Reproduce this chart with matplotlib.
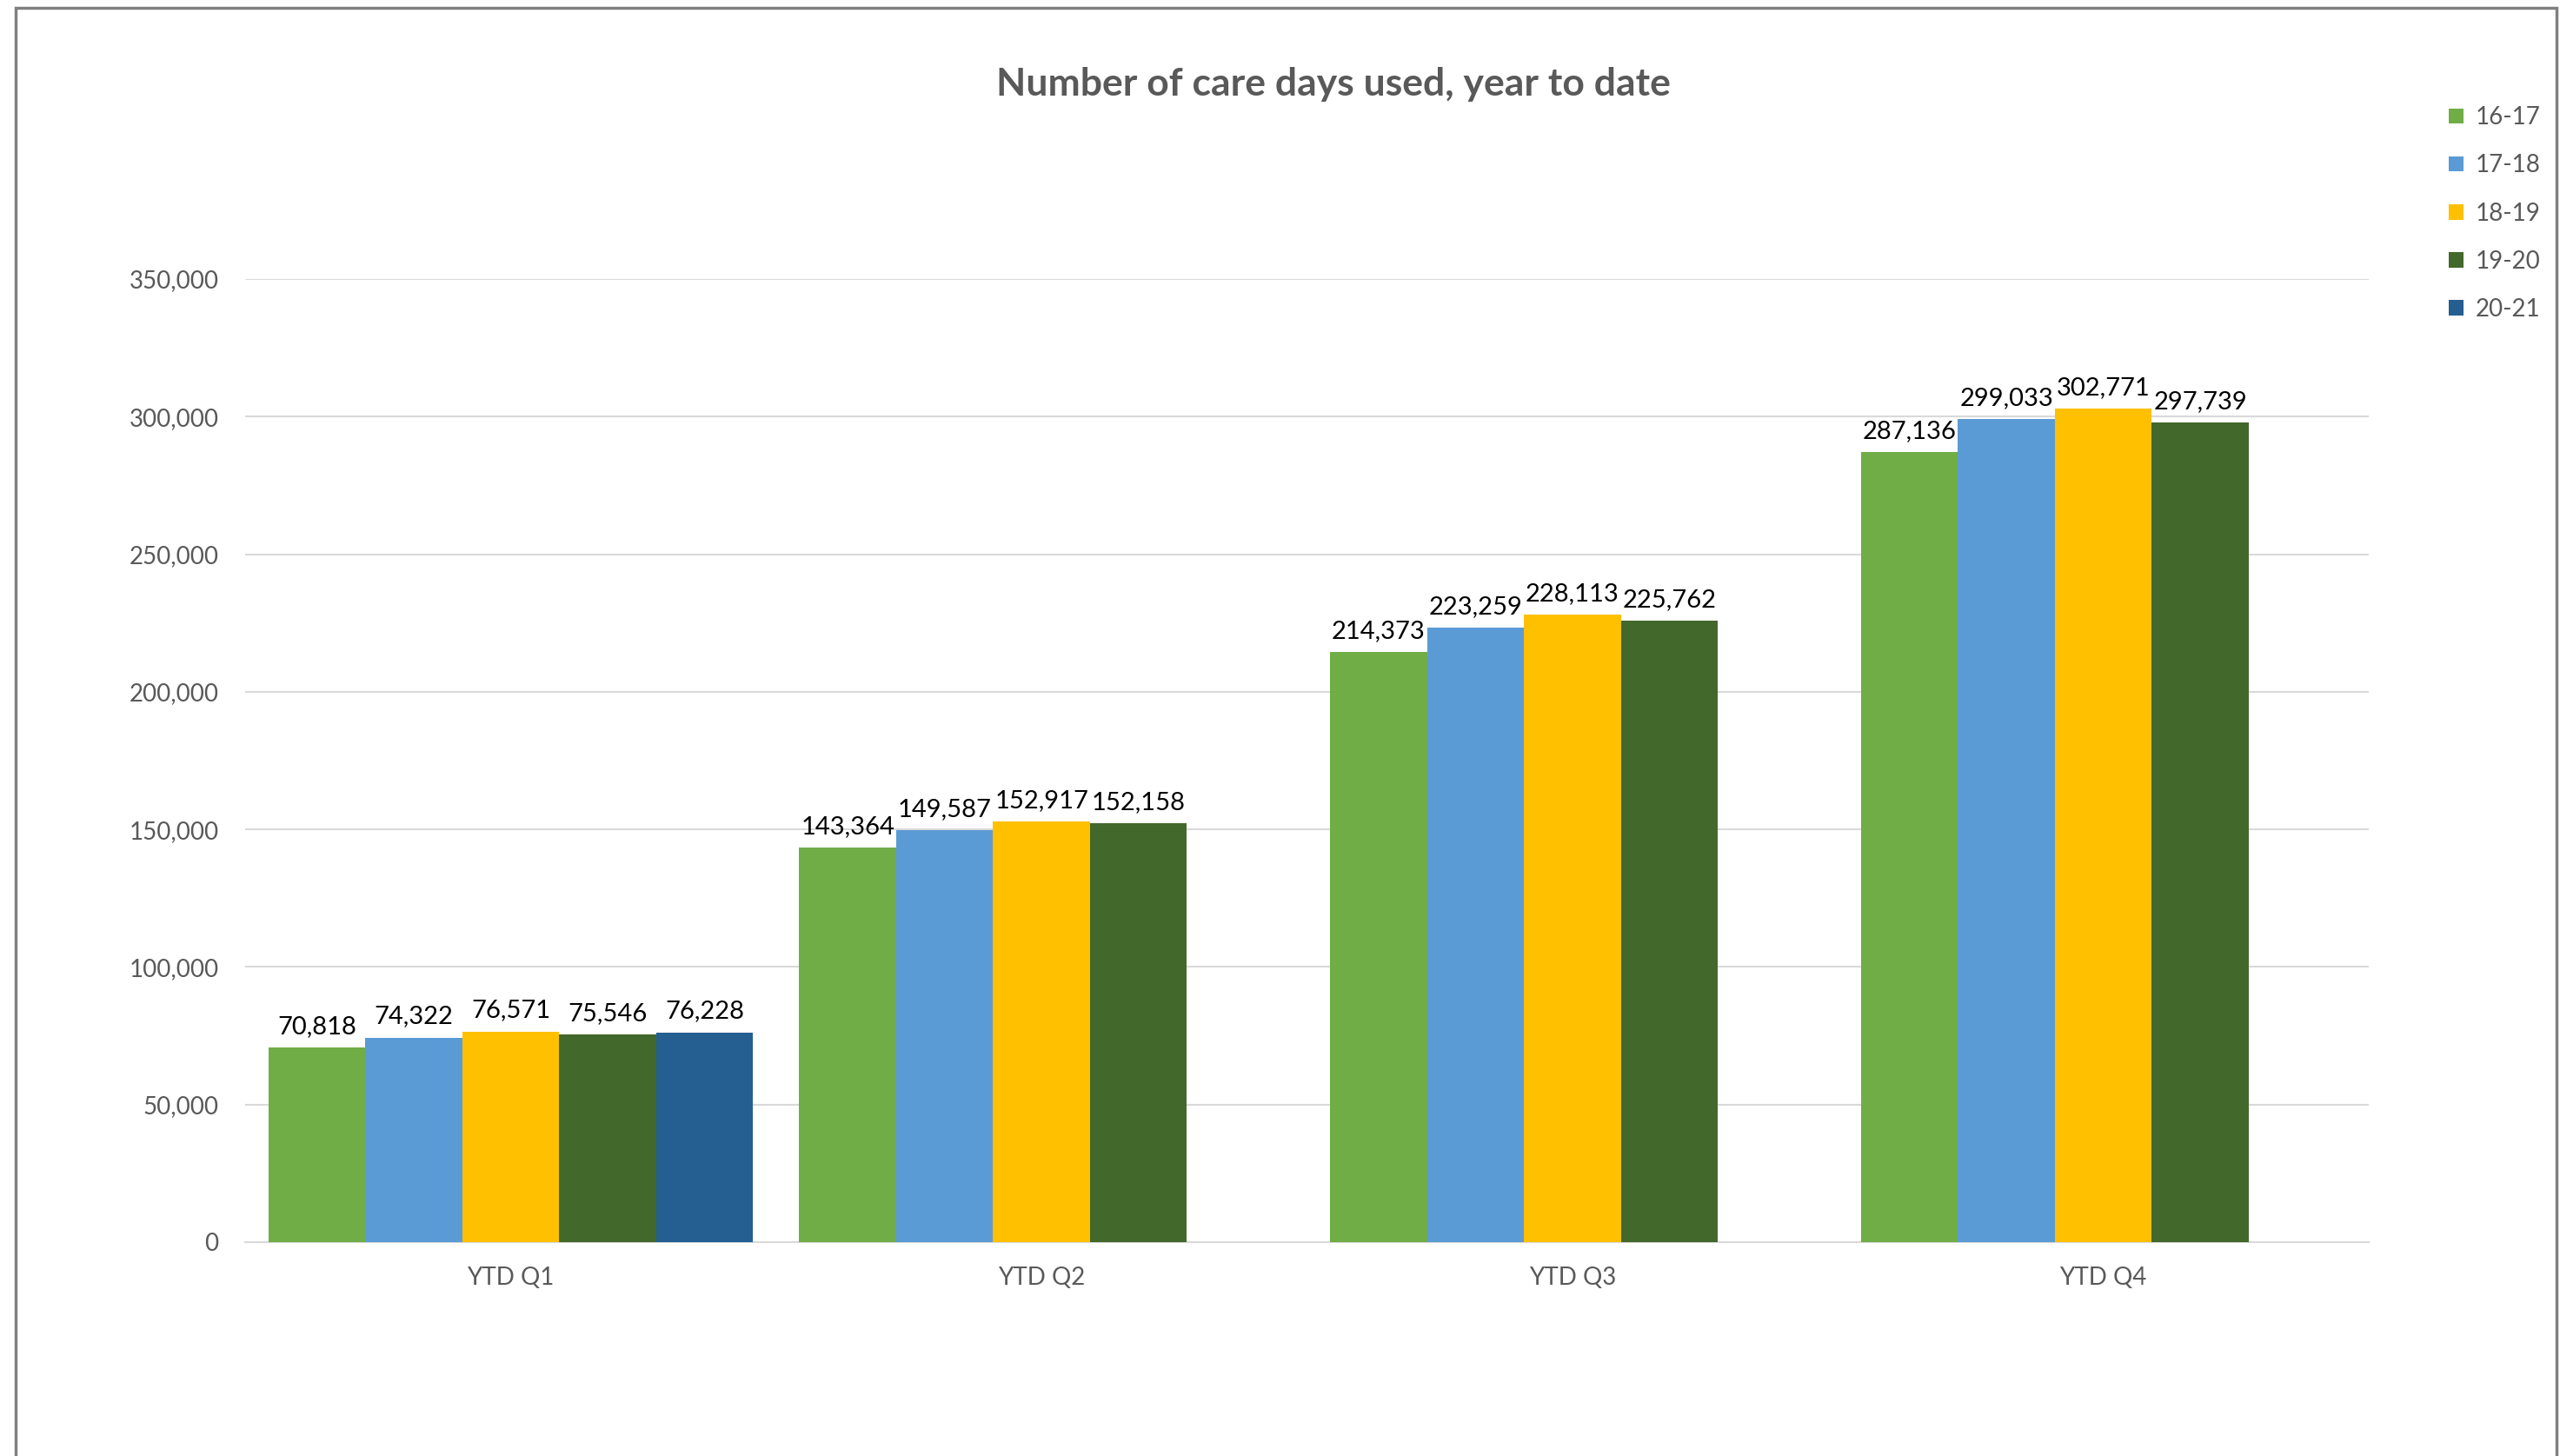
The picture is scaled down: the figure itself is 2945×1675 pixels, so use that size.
import numpy as np
import matplotlib
import matplotlib.pyplot as plt
from matplotlib.patches import Rectangle
from matplotlib.ticker import FuncFormatter
matplotlib.use('Agg')

plt.rcParams['font.family'] = ['Lato', 'DejaVu Sans']

categories = ['YTD Q1', 'YTD Q2', 'YTD Q3', 'YTD Q4']
seasons = ['16-17', '17-18', '18-19', '19-20', '20-21']
days_1617 = [70818, 143364, 214373, 287136]
days_1718 = [74322, 149587, 223259, 299033]
days_1819 = [76571, 152917, 228113, 302771]
days_1920 = [75546, 152158, 225762, 297739]
days_2021 = [76228]
colors = ['#70AD47', '#5B9BD5', '#FFC000', '#43682B', '#255E91']

series = [days_1617, days_1718, days_1819, days_1920, days_2021]

fig = plt.figure(figsize=(29.45, 16.75), dpi=100)
ax = fig.add_axes([0.0958, 0.1469, 0.8295, 0.6615])

group_width = 0.913
bar_w = group_width / len(seasons)
x = np.arange(len(categories))

for i, (name, vals) in enumerate(zip(seasons, series)):
    pos = x[:len(vals)] - group_width / 2 + bar_w * (i + 0.5)
    bars = ax.bar(pos, vals, width=bar_w, color=colors[i], label=name,
                  zorder=3, linewidth=0)
    ax.bar_label(bars, labels=[f'{v:,}' for v in vals], padding=8,
                 fontsize=21, color='black')

ax.set_xlim(-0.5, len(categories) - 0.5)
ax.set_ylim(0, 350000)
ax.set_yticks(np.arange(0, 350001, 50000))
ax.yaxis.set_major_formatter(FuncFormatter(lambda v, p: f'{int(v):,}'))
ax.set_xticks(x)
ax.set_xticklabels(categories)
ax.tick_params(axis='both', length=0, labelsize=20, colors='#595959')
ax.tick_params(axis='x', pad=20)
ax.tick_params(axis='y', pad=22)
ax.grid(axis='y', color='#D9D9D9', linewidth=1.5, zorder=0)
for s in ['top', 'right', 'left']:
    ax.spines[s].set_visible(False)
ax.spines['bottom'].set_color('#D9D9D9')
ax.spines['bottom'].set_linewidth(1.5)

fig.text(0.521, 0.942, 'Number of care days used, year to date',
         ha='center', va='center', fontsize=32, fontweight='bold',
         color='#595959')

fig.legend(loc='upper left', bbox_to_anchor=(0.9565, 0.927), frameon=False,
           fontsize=20, labelcolor='#595959', handlelength=0.6,
           handleheight=0.6, handletextpad=0.5, labelspacing=1.05,
           borderpad=0, borderaxespad=0)

fig.patches.append(Rectangle((18 / 2945, -0.05), (2941 - 18) / 2945, 1.05 - 9 / 1675,
                             transform=fig.transFigure, fill=False,
                             edgecolor='#808080', linewidth=2.5))

fig.savefig('out.png', dpi=100)
plt.close()
